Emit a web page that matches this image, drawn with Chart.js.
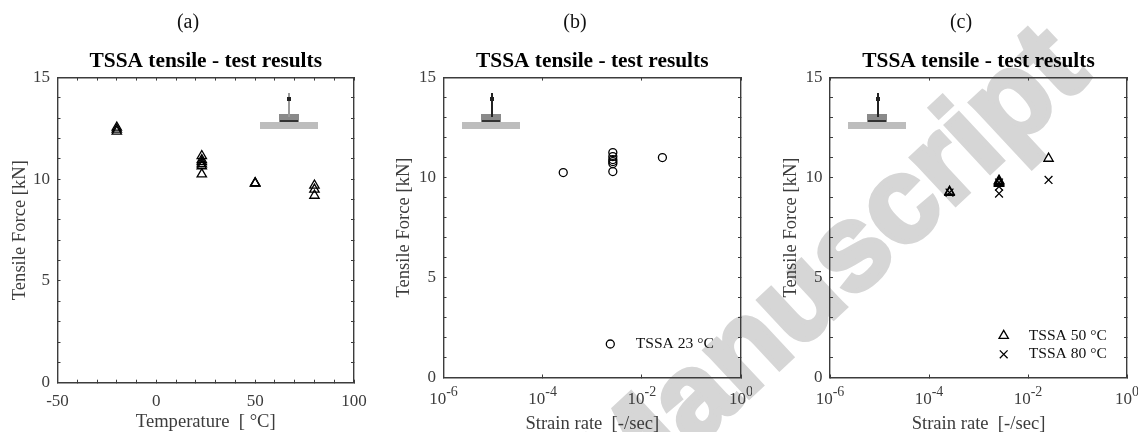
<!DOCTYPE html>
<html>
<head>
<meta charset="utf-8">
<title>TSSA tensile test results</title>
<script src="https://cdn.jsdelivr.net/npm/chart.js@4/dist/chart.umd.min.js"></script>
<style>
  html, body { margin: 0; padding: 0; background: #fff; overflow: hidden; }
  #page { position: relative; width: 1141px; height: 432px; overflow: hidden; }
  .panel { position: absolute; top: 0; height: 432px; }
  #mark { position: absolute; left: 633px; top: 410px; font: bold 121px "Liberation Sans"; color: #d6d6d6;
          -webkit-text-stroke: 5px #d6d6d6; white-space: nowrap; line-height: 121px;
          transform-origin: 0 100%; transform: rotate(-43deg); }
  .pic { position: absolute; filter: blur(0.5px); }
</style>
</head>
<body>
<div id="page">
  <div id="mark">Manuscript</div>
  <div class="panel" style="left:0;width:376px"><canvas id="chart-a"></canvas></div>
  <div class="panel" style="left:388px;width:374px;clip-path:inset(0 10px 0 0)"><canvas id="chart-b"></canvas></div>
  <div class="panel" style="left:781px;width:360px;clip-path:inset(0 3px 0 0)"><canvas id="chart-c"></canvas></div>
</div>
<script>
// panel (a): force against temperature
const tempValues = [-20, -20, -20, 23, 23, 23, 23, 23, 23, 50, 50, 50, 80, 80, 80];
const tempForce = [12.35, 12.45, 12.55, 10.25, 10.65, 10.75, 10.85, 10.95, 11.15, 9.8, 9.8, 9.82, 9.2, 9.5, 9.7];

// panel (b): 23 C against strain rate
const rate23 = [2.6e-4, 2.6e-3, 2.6e-3, 2.6e-3, 2.6e-3, 2.6e-3, 2.6e-3, 2.6e-2];
const force23 = [10.25, 10.3, 10.7, 10.8, 10.9, 11.05, 11.25, 11];

// panel (c): 50 C and 80 C against strain rate
const rate50 = [2.6e-4, 2.6e-4, 2.6e-3, 2.6e-3, 2.6e-3, 2.6e-3, 2.6e-2];
const force50 = [9.25, 9.3, 9.7, 9.75, 9.8, 9.85, 10.95];
const rate80 = [2.6e-4, 2.6e-3, 2.6e-3, 2.6e-3, 2.6e-2];
const force80 = [9.25, 9.2, 9.55, 9.75, 9.88];

const rateTicks = [1e-6, 1e-4, 1e-2, 1];
const rateExponents = ['-6', '-4', '-2', '0'];

const FONT = '"Liberation Serif", serif';
const INK = '#3c3c3c';

function toPoints(xs, ys) {
    return xs.map((x, i) => ({x: x, y: ys[i]}));
}

// legend sits inside the axes, bottom right, the built in one can't go there
const innerLegend = {
    id: 'innerLegend',
    afterDatasetsDraw(chart, args, opts) {
        if (!opts.markerRight) return;
        const ctx = chart.ctx;
        const area = chart.chartArea;
        const sets = chart.data.datasets;
        ctx.save();
        sets.forEach((ds, i) => {
            const y = area.bottom - opts.bottom - (sets.length - 1 - i) * opts.rowGap;
            ctx.strokeStyle = '#000';
            ctx.fillStyle = 'transparent';
            ctx.lineWidth = ds.pointBorderWidth;
            Chart.helpers.drawPoint(ctx, {
                pointStyle: ds.pointStyle,
                radius: ds.pointRadius,
                borderWidth: ds.pointBorderWidth,
                rotation: 0
            }, area.right - opts.markerRight, y);
            ctx.fillStyle = '#111';
            ctx.font = '15.6px ' + FONT;
            ctx.textBaseline = 'middle';
            ctx.textAlign = 'left';
            ctx.fillText(ds.label, area.right - opts.textRight, y);
        });
        ctx.restore();
    }
};

// tick labels can't mix font sizes, so 10^n is written here at the scale's own pixels
const powerLabels = {
    id: 'powerLabels',
    afterDraw(chart, args, opts) {
        if (!opts.on) return;
        const ctx = chart.ctx;
        const scale = chart.scales.x;
        const y = chart.chartArea.bottom + opts.gap;
        ctx.save();
        ctx.fillStyle = INK;
        ctx.textBaseline = 'middle';
        ctx.textAlign = 'left';
        rateTicks.forEach((v, i) => {
            ctx.font = '17px ' + FONT;
            const baseW = ctx.measureText('10').width;
            ctx.font = '14px ' + FONT;
            const expW = ctx.measureText(rateExponents[i]).width;
            const x = scale.getPixelForValue(v) - (baseW + expW) / 2;
            ctx.font = '17px ' + FONT;
            ctx.fillText('10', x, y);
            ctx.font = '14px ' + FONT;
            ctx.fillText(rateExponents[i], x + baseW, y - 7);
        });
        ctx.restore();
    }
};

function series(label, points, style, radius) {
    return {
        label: label,
        data: points,
        pointStyle: style,
        pointRadius: radius,
        pointBorderWidth: 1.3,
        pointBorderColor: '#000',
        pointBackgroundColor: 'transparent',
        showLine: false
    };
}

function axisBase() {
    return {
        grid: {drawOnChartArea: false, tickLength: -3, tickColor: INK, tickWidth: 1},
        border: {display: true, color: INK, width: 1.4}
    };
}

function buildChart(id, cfg) {
    const xAxis = Object.assign(axisBase(), {
        type: cfg.xType,
        min: cfg.xMin,
        max: cfg.xMax,
        position: 'bottom',
        title: {
            display: true, text: cfg.xTitle, color: INK,
            font: {family: FONT, size: 18.6}, padding: {top: 0, bottom: cfg.xTitlePad}
        },
        ticks: {
            color: INK, font: {family: FONT, size: 17}, padding: cfg.xTickPad,
            maxRotation: 0, autoSkip: false, callback: cfg.xLabel, stepSize: cfg.xStep
        },
        afterBuildTicks: cfg.xTicks,
        afterFit(s) { s.height = cfg.bottom; s.paddingLeft = 0; s.paddingRight = 0; }
    });
    const xTop = Object.assign(axisBase(), {
        type: cfg.xType,
        min: cfg.xMin,
        max: cfg.xMax,
        position: 'top',
        ticks: {display: false, stepSize: cfg.xStep, autoSkip: false},
        afterBuildTicks: cfg.xTicks,
        afterFit(s) { s.height = 0; s.paddingLeft = 0; s.paddingRight = 0; }
    });
    const yAxis = Object.assign(axisBase(), {
        min: 0,
        max: 15,
        position: 'left',
        title: {
            display: true, text: 'Tensile Force [kN]', color: INK,
            font: {family: FONT, size: 18.6}, padding: {top: cfg.yTitlePad, bottom: 0}
        },
        ticks: {
            color: INK, font: {family: FONT, size: 17}, padding: 10.5, stepSize: 1, autoSkip: false,
            callback: v => (v % 5 === 0 ? v : '')
        },
        afterFit(s) { s.width = cfg.left; s.paddingTop = 0; s.paddingBottom = 0; }
    });
    const yRight = Object.assign(axisBase(), {
        min: 0,
        max: 15,
        position: 'right',
        ticks: {display: false, stepSize: 1, autoSkip: false},
        afterFit(s) { s.width = cfg.right; s.paddingTop = 0; s.paddingBottom = 0; }
    });
    return new Chart(document.getElementById(id), {
        type: 'scatter',
        data: {datasets: cfg.datasets},
        plugins: [innerLegend, powerLabels],
        options: {
            responsive: false,
            animation: false,
            layout: {padding: 0},
            scales: {x: xAxis, x2: xTop, y: yAxis, y2: yRight},
            plugins: {
                legend: {display: false},
                tooltip: {enabled: false},
                title: {
                    display: true, text: cfg.letter, color: '#111',
                    font: {family: FONT, size: 20, weight: 'normal'},
                    padding: {top: 11, bottom: 6}
                },
                subtitle: {
                    display: true, text: 'TSSA tensile - test results', color: '#000', fullSize: false,
                    font: {family: FONT, size: 21.4, weight: 'bold'},
                    padding: {top: 7.15, bottom: 3.75}
                },
                innerLegend: cfg.legend || {},
                powerLabels: {on: cfg.xType === 'logarithmic', gap: 22}
            }
        }
    });
}

function sizeCanvas(id, w) {
    const c = document.getElementById(id);
    c.width = w;
    c.height = 432;
    c.style.display = 'block';
}
sizeCanvas('chart-a', 376);
sizeCanvas('chart-b', 374);
sizeCanvas('chart-c', 360);

const rateAxis = {
    xType: 'logarithmic',
    xMin: 1e-6,
    xMax: 1,
    xTitle: 'Strain rate  [-/sec]',
    xTicks(s) { s.ticks = rateTicks.map(v => ({value: v})); },
    xLabel() { return ''; },
    xTitlePad: -3.5,
    xTickPad: 10,
    bottom: 54.5
};

buildChart('chart-a', {
    letter: '(a)',
    xType: 'linear',
    xMin: -50,
    xMax: 100,
    xStep: 10,
    xTitle: 'Temperature  [ °C]',
    xLabel: v => (v % 50 === 0 ? v : ''),
    xTitlePad: -1,
    xTickPad: 12,
    bottom: 49.3,
    left: 57.5,
    right: 22,
    yTitlePad: 8.5,
    datasets: [series('TSSA', toPoints(tempValues, tempForce), 'triangle', 5.4)]
});

buildChart('chart-b', Object.assign({}, rateAxis, {
    letter: '(b)',
    left: 55.5,
    right: 21,
    yTitlePad: 5,
    datasets: [series('TSSA 23 °C', toPoints(rate23, force23), 'circle', 4)],
    legend: {markerRight: 130.7, textRight: 105.3, bottom: 33.5, rowGap: 18.6}
}));

buildChart('chart-c', Object.assign({}, rateAxis, {
    letter: '(c)',
    left: 49,
    right: 14,
    yTitlePad: -1,
    datasets: [
        series('TSSA 50 °C', toPoints(rate50, force50), 'triangle', 5.4),
        series('TSSA 80 °C', toPoints(rate80, force80), 'crossRot', 5.5)
    ],
    legend: {markerRight: 123.3, textRight: 98.3, bottom: 23.2, rowGap: 18.6}
}));

// small specimen sketches inside each panel (pictures in the original, not data)
const sketches = [
    {bar: 260, block: 279, stem: 288, stemColor: '#9a9a9a', stemTop: 93},
    {bar: 462, block: 481, stem: 491, stemColor: '#222', stemTop: 93},
    {bar: 848, block: 867, stem: 877, stemColor: '#222', stemTop: 93}
];
const page = document.getElementById('page');
function addRect(x, y, w, h, color) {
    const d = document.createElement('div');
    d.className = 'pic';
    d.style.cssText = `left:${x}px;top:${y}px;width:${w}px;height:${h}px;background:${color}`;
    page.appendChild(d);
}
sketches.forEach(s => {
    addRect(s.bar, 122, 58, 7, '#bdbdbd');
    addRect(s.block, 114, 20, 8, '#8a8a8a');
    addRect(s.block + 1, 120, 18, 1.5, '#333');
    addRect(s.stem, s.stemTop, 1.5, 24, s.stemColor);
    addRect(s.stem - 1, 97, 3.5, 4, '#222');
});
</script>
</body>
</html>
